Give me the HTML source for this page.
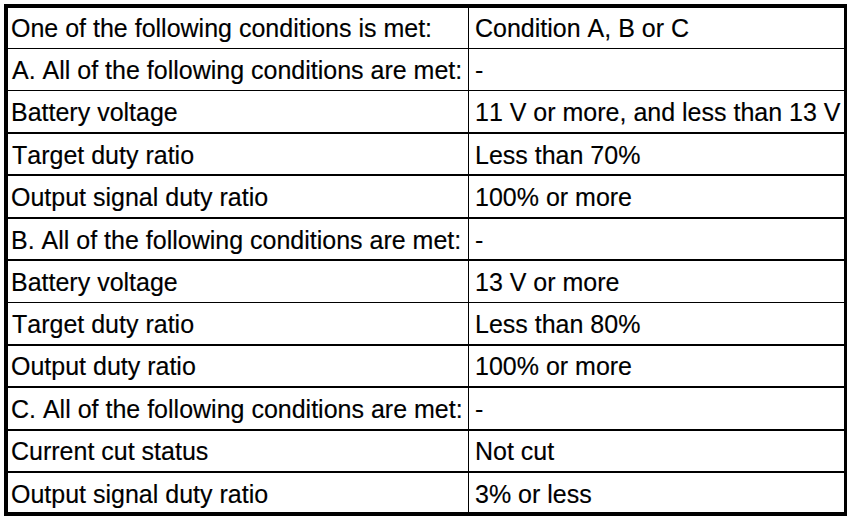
<!DOCTYPE html>
<html><head><meta charset="utf-8"><title>Conditions</title>
<style>
html,body{margin:0;padding:0;background:#fff;}
body{width:864px;height:522px;position:relative;overflow:hidden;font-family:"Liberation Sans",sans-serif;font-size:25px;color:#000;}
.box{position:absolute;left:4px;top:4px;width:836px;height:504px;border-style:solid;border-color:#000;border-width:4px 3px 4px 4px;}
.h{position:absolute;left:8px;width:836px;height:1px;background:#000;}
.v{position:absolute;left:468px;top:8px;width:1px;height:504px;background:#000;}
.t{position:absolute;white-space:nowrap;-webkit-text-stroke:0.15px #000;font-kerning:none;font-feature-settings:"kern" 0,"liga" 0;line-height:30px;height:30px;}
</style></head><body>
<div class="box"></div>
<div class="v"></div>
<div class="h" style="top:48px;height:1px"></div>
<div class="h" style="top:90px;height:1px"></div>
<div class="h" style="top:132px;height:2px"></div>
<div class="h" style="top:174px;height:2px"></div>
<div class="h" style="top:217px;height:2px"></div>
<div class="h" style="top:259px;height:2px"></div>
<div class="h" style="top:302px;height:1px"></div>
<div class="h" style="top:344px;height:2px"></div>
<div class="h" style="top:386px;height:2px"></div>
<div class="h" style="top:429px;height:2px"></div>
<div class="h" style="top:471px;height:2px"></div>
<div class="t" style="left:11px;top:13px">One of the following conditions is met:</div>
<div class="t" style="left:475px;top:13px">Condition A, B or C</div>
<div class="t" style="left:12px;top:55px">A. All of the following conditions are met:</div>
<div class="t" style="left:475px;top:55px">-</div>
<div class="t" style="left:11px;top:97px">Battery voltage</div>
<div class="t" style="left:475px;top:97px">11 V or more, and less than 13 V</div>
<div class="t" style="left:12px;top:140px">Target duty ratio</div>
<div class="t" style="left:475px;top:140px">Less than 70%</div>
<div class="t" style="left:11px;top:182px">Output signal duty ratio</div>
<div class="t" style="left:475px;top:182px">100% or more</div>
<div class="t" style="left:11px;top:225px">B. All of the following conditions are met:</div>
<div class="t" style="left:475px;top:225px">-</div>
<div class="t" style="left:11px;top:267px">Battery voltage</div>
<div class="t" style="left:475px;top:267px">13 V or more</div>
<div class="t" style="left:12px;top:309px">Target duty ratio</div>
<div class="t" style="left:475px;top:309px">Less than 80%</div>
<div class="t" style="left:11px;top:351px">Output duty ratio</div>
<div class="t" style="left:475px;top:351px">100% or more</div>
<div class="t" style="left:11px;top:394px">C. All of the following conditions are met:</div>
<div class="t" style="left:475px;top:394px">-</div>
<div class="t" style="left:11px;top:436px">Current cut status</div>
<div class="t" style="left:475px;top:436px">Not cut</div>
<div class="t" style="left:11px;top:479px">Output signal duty ratio</div>
<div class="t" style="left:475px;top:479px">3% or less</div>
</body></html>
